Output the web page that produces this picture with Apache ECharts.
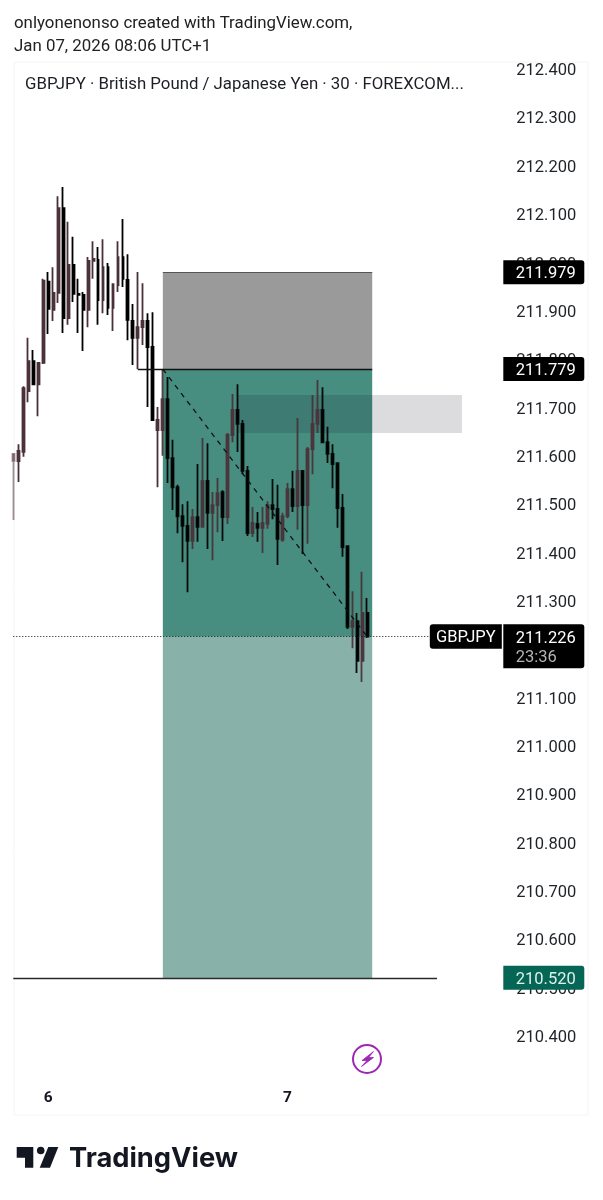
<!DOCTYPE html>
<html>
<head>
<meta charset="utf-8">
<title>GBPJPY 30m</title>
<script src="https://cdn.jsdelivr.net/npm/echarts@6/dist/echarts.min.js"></script>
<style>html,body{margin:0;padding:0;background:#fff}#chart{width:603px;height:1200px}</style>
</head>
<body>
<div id="chart"></div>
<script>
// GBPJPY 30-minute candles, oldest first
const opens = [211.589,211.589,211.608,211.734,211.796,211.748,211.792,211.960,211.902,211.937,212.112,211.885,211.995,211.935,211.933,211.902,212.003,212.005,211.922,211.990,211.906,211.953,212.011,211.964,211.879,211.844,211.866,211.879,211.825,211.653,211.653,211.717,211.595,211.535,211.475,211.455,211.424,211.473,211.453,211.548,211.482,211.498,211.525,211.473,211.643,211.695,211.666,211.569,211.440,211.459,211.451,211.459,211.498,211.490,211.426,211.475,211.531,211.496,211.569,211.498,211.614,211.666,211.695,211.628,211.604,211.585,211.492,211.413,211.246,211.258,211.176,211.275];
const closes = [211.604,211.610,211.740,211.796,211.748,211.792,211.962,211.904,211.937,212.112,211.885,211.995,211.935,211.933,211.902,212.003,212.007,211.922,211.990,211.906,211.955,212.011,211.966,211.881,211.844,211.866,211.879,211.825,211.674,211.674,211.717,211.595,211.535,211.475,211.455,211.424,211.473,211.453,211.548,211.482,211.498,211.523,211.473,211.643,211.695,211.666,211.569,211.440,211.461,211.451,211.461,211.498,211.490,211.428,211.475,211.531,211.496,211.569,211.498,211.614,211.666,211.695,211.628,211.604,211.583,211.492,211.411,211.246,211.258,211.176,211.275,211.226];
const lows   = [211.467,211.546,211.598,211.711,211.748,211.682,211.790,211.852,211.879,211.916,211.854,211.871,211.918,211.854,211.817,211.866,211.966,211.871,211.895,211.891,211.858,211.939,211.949,211.839,211.788,211.779,211.829,211.701,211.674,211.535,211.600,211.544,211.488,211.440,211.380,211.318,211.407,211.422,211.453,211.407,211.384,211.442,211.424,211.459,211.628,211.608,211.562,211.434,211.432,211.422,211.399,211.449,211.469,211.374,211.422,211.471,211.484,211.447,211.397,211.418,211.562,211.647,211.628,211.585,211.533,211.451,211.391,211.242,211.202,211.151,211.132,211.223];
const highs  = [211.606,211.624,211.744,211.844,211.819,211.794,211.966,211.980,211.990,212.137,212.156,212.084,212.053,211.966,211.939,212.011,212.044,212.032,212.048,211.999,211.957,212.044,212.090,212.017,211.914,211.980,211.957,211.895,211.897,211.701,211.779,211.763,211.633,211.540,211.500,211.506,211.490,211.583,211.637,211.626,211.525,211.554,211.529,211.647,211.728,211.748,211.674,211.579,211.494,211.484,211.494,211.506,211.552,211.540,211.482,211.544,211.569,211.678,211.569,211.618,211.726,211.757,211.742,211.660,211.624,211.585,211.521,211.413,211.320,211.275,211.360,211.306];

// Position tool prices
const stopPrice = 211.979;
const entryPrice = 211.779;
const lastPrice = 211.226;
const targetPrice = 210.520;
const zoneTop = 211.726;
const zoneBottom = 211.647;

// Bar slots on the time axis, including the empty space to the right of the last candle
const slotCount = 99;
const dayTickSlots = [7, 55];
const dayTickLabels = ['6', '7'];

const priceMin = 210.3;
const priceMax = 212.4;
const priceStep = 0.1;

const categories = [];
for (let i = 0; i < slotCount; i++) categories.push('bar ' + i);

// Candles from the tool's start slot onward sit over the shaded area;
// the very first candle is cut by the pane edge, so it reads lighter
const toolStart = 30, toolEnd = 72, zoneStart = 45, zoneEnd = 90;
const candles = opens.map((o, i) => ({
  value: [o, closes[i], lows[i], highs[i]],
  itemStyle: { opacity: i === 0 ? 0.55 : i >= toolStart ? 0.92 : 1 }
}));

// Price tags on the right scale
const tagValues = [stopPrice, entryPrice, lastPrice, targetPrice];
const tagFills = ['#000000', '#000000', '#000000', '#056656'];
const tagTextFills = ['#ffffff', '#ffffff', '#ffffff', '#dff0ea'];
const tagHeights = [24, 24, 44, 24];
const tagFont = '16.5px Roboto';

function renderTag(params, api) {
  const i = params.dataIndex;
  const y = api.coord([0, api.value(1)])[1];
  const left = params.coordSys.x + params.coordSys.width - 1;
  const w = 81, h = tagHeights[i];
  const top = y - 12.3;
  const kids = [
    { type: 'rect', shape: { x: left, y: top, width: w, height: h, r: [0, 3, 3, 0] }, style: { fill: tagFills[i] } },
    { type: 'text', style: { x: left + 12.5, y: y + 1.8, text: tagValues[i].toFixed(3), fill: tagTextFills[i], font: tagFont, verticalAlign: 'middle', align: 'left' } }
  ];
  if (tagValues[i] === lastPrice) {
    kids.push({ type: 'text', style: { x: left + 12.5, y: y + 21.5, text: '23:36', fill: '#b4b4b4', font: tagFont, verticalAlign: 'middle', align: 'left' } });
    kids.push({ type: 'rect', shape: { x: left - 73.5, y: top, width: 72, height: 24.5, r: [3, 0, 0, 3] }, style: { fill: '#000000' } });
    kids.push({ type: 'text', style: { x: left - 37.5, y: y + 1.5, text: 'GBPJPY', fill: '#ffffff', font: '16.5px Roboto', verticalAlign: 'middle', align: 'center' } });
  }
  return { type: 'group', children: kids };
}

const chart = echarts.init(document.getElementById('chart'), null, { renderer: 'canvas' });
const gridLeft = 10.8, gridWidth = 493.5, gridTop = 69, gridHeight = 1015.35;

chart.setOption({
  animation: false,
  backgroundColor: '#ffffff',
  title: [
    { text: 'onlyonenonso created with TradingView.com,', left: 14, top: 15.5, padding: 0, textStyle: { fontFamily: 'Roboto', fontSize: 16.85, fontWeight: 'normal', color: '#222222' } },
    { text: 'Jan 07, 2026 08:06 UTC+1', left: 14, top: 38.5, padding: 0, textStyle: { fontFamily: 'Roboto', fontSize: 16.85, fontWeight: 'normal', color: '#222222' } },
    { text: 'GBPJPY \u00b7 British Pound / Japanese Yen \u00b7 30 \u00b7 FOREXCOM...', left: 25, top: 76.5, padding: 0, textStyle: { fontFamily: 'Roboto', fontSize: 16.8, fontWeight: 'normal', color: '#1c1f26' } }
  ],
  grid: { left: gridLeft, width: gridWidth, top: gridTop, height: gridHeight },
  xAxis: {
    type: 'category',
    data: categories,
    boundaryGap: true,
    axisLine: { show: false },
    axisTick: { show: false },
    splitLine: { show: false },
    axisLabel: {
      interval: (i) => dayTickSlots.includes(i),
      formatter: (v, i) => dayTickLabels[dayTickSlots.indexOf(i)] || '',
      fontFamily: 'Roboto', fontSize: 15.5, fontWeight: 'bold', color: '#131722', margin: 6
    }
  },
  yAxis: {
    type: 'value',
    position: 'right',
    min: priceMin, max: priceMax, interval: priceStep,
    axisLine: { show: false },
    axisTick: { show: false },
    splitLine: { show: false },
    axisLabel: {
      margin: 12,
      verticalAlign: 'top',
      lineHeight: 4,
      fontFamily: 'Roboto', fontSize: 16.5, color: '#1f2328',
      formatter: (v) => v < priceMin + priceStep / 2 ? '' : v.toFixed(3)
    }
  },
  series: [
    {
      type: 'candlestick',
      data: candles,
      barWidth: 2.4,
      z: 3,
      itemStyle: { color: '#5e3a44', color0: '#000000', borderColor: '#4a3038', borderColor0: '#000000', borderWidth: 1.8 },
      markArea: {
        silent: true,
        z: 1,
        data: [
          [{ coord: [toolStart, stopPrice], itemStyle: { color: '#9a9a9a' } }, { coord: [toolEnd, entryPrice] }],
          [{ coord: [toolStart, entryPrice], itemStyle: { color: '#478e80' } }, { coord: [toolEnd, lastPrice] }],
          [{ coord: [toolStart, lastPrice], itemStyle: { color: '#87b1a9' } }, { coord: [toolEnd, targetPrice] }],
          [{ coord: [zoneStart, zoneTop], itemStyle: { color: 'rgba(10,10,30,0.14)' } }, { coord: [zoneEnd, zoneBottom] }]
        ]
      },
      markLine: {
        silent: true,
        symbol: ['none', 'none'],
        label: { show: false },
        emphasis: { disabled: true },
        data: [
          [{ coord: [toolStart, stopPrice], lineStyle: { color: '#555555', width: 1, type: 'solid' } }, { coord: [toolEnd, stopPrice] }],
          [{ coord: [25, entryPrice], lineStyle: { color: '#111111', width: 1.3, type: 'solid' } }, { coord: [toolEnd, entryPrice] }],
          [{ coord: [0, targetPrice], lineStyle: { color: '#2a2a2a', width: 1.3, type: 'solid' } }, { coord: [85, targetPrice] }],
          [{ coord: [0, lastPrice], lineStyle: { color: '#111111', width: 1, type: [1, 2] } }, { coord: [84, lastPrice] }],
          [{ coord: [toolStart, entryPrice], lineStyle: { color: '#111111', width: 1.3, type: [5, 5] } }, { coord: [71, lastPrice] }]
        ]
      }
    },
    {
      type: 'custom',
      coordinateSystem: 'cartesian2d',
      renderItem: renderTag,
      data: tagValues.map((v) => [0, v]),
      encode: { x: 0, y: 1 },
      silent: true,
      clip: false,
      z: 10
    }
  ],
  graphic: [
    { type: 'rect', z: -1, silent: true, shape: { x: 14, y: 62, width: 574, height: 1053 }, style: { fill: 'none', stroke: '#f3f4f6', lineWidth: 1 } },
    { type: 'circle', silent: true, shape: { cx: 367, cy: 1059, r: 14 }, style: { fill: '#ffffff', stroke: '#9c27b0', lineWidth: 2 } },
    { type: 'polygon', silent: true, shape: { points: [[373.5,1051.5],[362,1060.5],[367,1060.5],[361.5,1066.5],[373.5,1057.5],[368.5,1057.5]] }, style: { fill: '#9c27b0', stroke: '#9c27b0', lineWidth: 0.8 } },
    { type: 'polygon', silent: true, shape: { points: [[16.7,1147],[33.3,1147],[33.3,1167.7],[25,1167.7],[25,1157.7],[16.7,1157.7]] }, style: { fill: '#131722' } },
    { type: 'circle', silent: true, shape: { cx: 40.7, cy: 1150.5, r: 3.8 }, style: { fill: '#131722' } },
    { type: 'polygon', silent: true, shape: { points: [[48.3,1147],[58.3,1147],[50,1167.7],[39.7,1167.7]] }, style: { fill: '#131722' } },
    { type: 'text', silent: true, style: { x: 69, y: 1159, text: 'TradingView', fill: '#131722', font: '700 27.3px Inter', verticalAlign: 'middle', align: 'left' } }
  ]
});
</script>
</body>
</html>
